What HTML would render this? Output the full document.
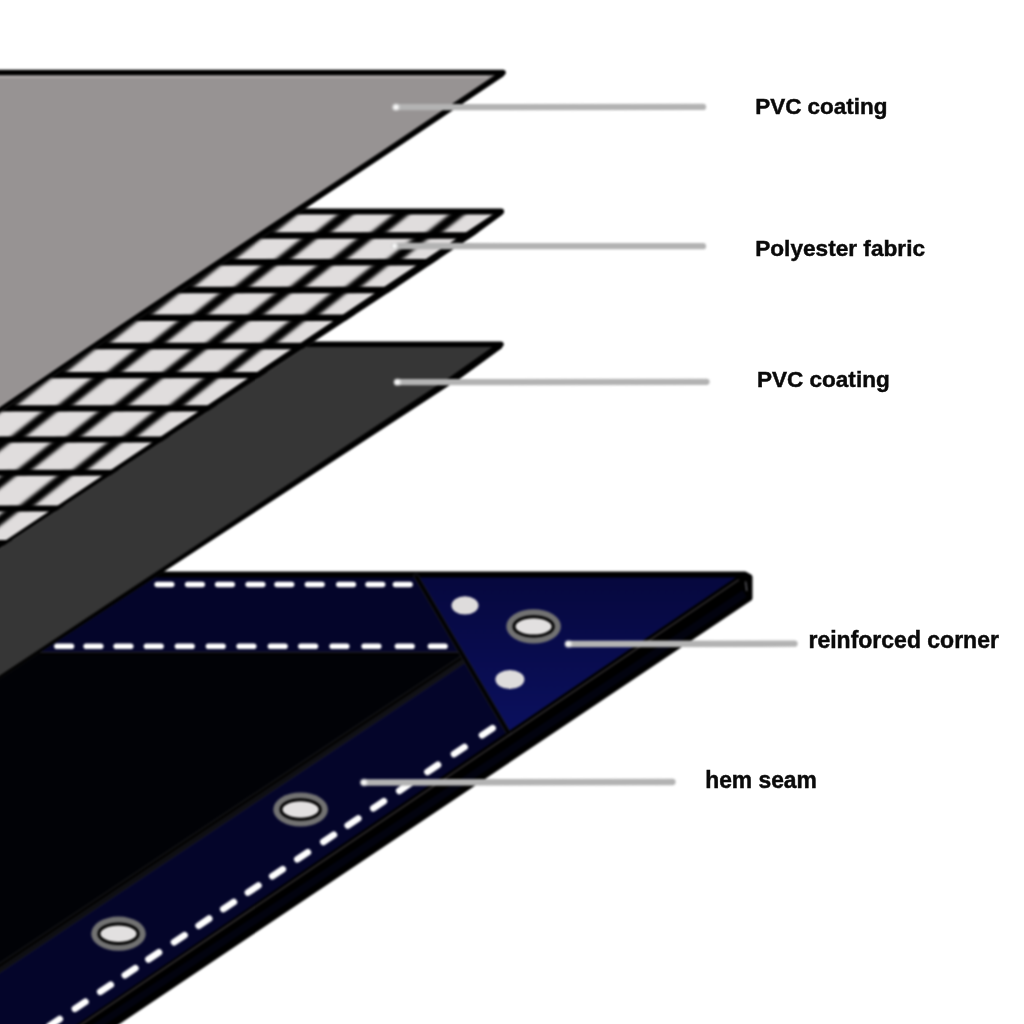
<!DOCTYPE html>
<html><head><meta charset="utf-8"><title>Tarpaulin layers</title>
<style>
html,body{margin:0;padding:0;background:#fff;}
body{width:1024px;height:1024px;overflow:hidden;}
svg{display:block;}
text{font-family:"Liberation Sans",sans-serif;font-weight:bold;font-size:22px;fill:#0a0a0a;stroke:#0a0a0a;stroke-width:0.45px;}
</style></head><body>
<svg width="1024" height="1024" viewBox="0 0 1024 1024">
<defs>
<filter color-interpolation-filters="sRGB" id="soft" x="-5%" y="-50%" width="110%" height="200%"><feGaussianBlur stdDeviation="0.7"/></filter>
<filter color-interpolation-filters="sRGB" id="soft2" x="-5%" y="-5%" width="110%" height="110%"><feGaussianBlur stdDeviation="1.4"/></filter>
<filter color-interpolation-filters="sRGB" id="soft4" x="-50%" y="-50%" width="200%" height="200%"><feGaussianBlur stdDeviation="0.9"/></filter>
<filter color-interpolation-filters="sRGB" id="tsoft" x="-2%" y="-20%" width="104%" height="140%"><feColorMatrix type="matrix" values="1 0 0 0 0  0 1 0 0 0  0 0 1 0 0  0 0 0 1 0"/></filter>
<filter color-interpolation-filters="sRGB" id="soft5" x="-5%" y="-5%" width="110%" height="110%"><feGaussianBlur stdDeviation="0.5"/></filter>
<filter color-interpolation-filters="sRGB" id="lsoft" x="-5%" y="-300%" width="110%" height="700%"><feGaussianBlur stdDeviation="1.0"/></filter>
<filter color-interpolation-filters="sRGB" id="gsoft" filterUnits="userSpaceOnUse" x="-30" y="-30" width="1084" height="1084"><feGaussianBlur stdDeviation="0.8"/></filter>
<filter color-interpolation-filters="sRGB" id="soft3" x="-5%" y="-5%" width="110%" height="110%"><feGaussianBlur stdDeviation="0.6"/></filter>
<linearGradient id="cg" gradientUnits="userSpaceOnUse" x1="0" y1="578" x2="0" y2="731"><stop offset="0" stop-color="#06083e"/><stop offset="1" stop-color="#0b105e"/></linearGradient>
</defs>
<rect width="1024" height="1024" fill="#fff"/>
<g filter="url(#gsoft)">
<g id="tarp">
<path d="M-20 574.5 L745 574.5 L749.5 577 L749.5 598 L50 1067 L-20 1060 Z" fill="#000" stroke="#000" stroke-width="6" stroke-linejoin="round" filter="url(#soft)"/>
<path d="M743 590 L746.5 597 L60 1054.8 L60 1046.33 Z" fill="#02030f"/>
<path d="M-20 577.5 L736 577.5 L40 1049.89 L-20 1040 Z" fill="#010206"/>
<path d="M-20 577.5 L418.06 577.5 L460.63 652 L-20 652 Z" fill="#04052a"/>
<path d="M-20 985.82 L466 661.14 L509 731 L-20 1090.57 Z" fill="#04052a"/>
<path d="M417.6 577.5 L736 577.5 L509 731 Z" fill="url(#cg)"/>
<g fill="none" stroke="#000" stroke-linecap="round">
<path d="M40 653.6 L461 653.6" stroke-width="2.4"/>
<path d="M40 652.2 L461 652.2" stroke="#2b2b33" stroke-width="1.1"/>
<path d="M-20 978.82 L463 657.14" stroke="#222226" stroke-width="4.4"/>
<path d="M-20 978.82 L463 657.14" stroke-width="2.8"/>
<path d="M-20 984.52 L467 660.18" stroke="#2e2e36" stroke-width="2.6"/>
<path d="M-20 984.52 L467 660.18" stroke-width="1.2"/>
<path d="M416 576 L508.5 733" stroke="#1c1c24" stroke-width="5"/>
<path d="M416 576 L508.5 733" stroke-width="3.3"/>
<path d="M737 578 L40 1050.69" stroke-width="1.6"/>
<path d="M738.5 580 L40 1052.49" stroke="#3a3638" stroke-width="1.3"/>
</g>
<path d="M745.6 581.5 L746.8 591" stroke="#8f8f98" stroke-width="0.9" fill="none"/>
<g fill="none" stroke="#fff" stroke-width="5.6" stroke-linecap="round">
<path d="M157.2 584.5 h14.5"/>
<path d="M187.7 584.5 h14.5"/>
<path d="M217.7 584.5 h14.5"/>
<path d="M248.2 584.5 h14.5"/>
<path d="M277.1 584.5 h14.5"/>
<path d="M307.5 584.5 h14.5"/>
<path d="M338.8 584.5 h14.5"/>
<path d="M368.1 584.5 h14.5"/>
<path d="M395.5 584.5 h14.5"/>
<path d="M56.9 646.3 h14.5"/>
<path d="M86.2 646.3 h14.5"/>
<path d="M116.2 646.3 h14.5"/>
<path d="M146.5 646.3 h14.5"/>
<path d="M177.5 646.3 h14.5"/>
<path d="M208.5 646.3 h14.5"/>
<path d="M239.2 646.3 h14.5"/>
<path d="M270.5 646.3 h14.5"/>
<path d="M300.9 646.3 h14.5"/>
<path d="M332.2 646.3 h14.5"/>
<path d="M364.2 646.3 h14.5"/>
<path d="M397.5 646.3 h14.5"/>
<path d="M430.5 646.3 h14.5"/>
</g>
<g fill="none" stroke="#fff" stroke-width="6.7" stroke-linecap="round">
<path d="M482.07 735.21 L492.53 728.19"/>
<path d="M454.07 754.03 L464.53 747"/>
<path d="M427.47 771.91 L437.93 764.88"/>
<path d="M399.27 790.86 L409.73 783.83"/>
<path d="M373.37 808.26 L383.83 801.23"/>
<path d="M347.77 825.46 L358.23 818.44"/>
<path d="M323.37 841.86 L333.83 834.83"/>
<path d="M297.37 859.33 L307.83 852.3"/>
<path d="M272.27 876.2 L282.73 869.17"/>
<path d="M247.97 892.53 L258.43 885.5"/>
<path d="M223.37 909.06 L233.83 902.03"/>
<path d="M198.67 925.66 L209.13 918.63"/>
<path d="M174.07 942.19 L184.53 935.16"/>
<path d="M148.47 959.39 L158.93 952.37"/>
<path d="M124.87 975.25 L135.33 968.22"/>
<path d="M100.27 991.78 L110.73 984.76"/>
<path d="M74.97 1008.79 L85.43 1001.76"/>
<path d="M49.27 1026.06 L59.73 1019.03"/>
<path d="M24.27 1042.86 L34.73 1035.83"/>
<path d="M-0.73 1059.66 L9.73 1052.63"/>
</g>
<ellipse cx="465" cy="605.4" rx="13.5" ry="9.2" fill="#dedcdc"/>
<ellipse cx="509.9" cy="679.5" rx="14.5" ry="9.4" fill="#dedcdc"/>
<ellipse cx="533.6" cy="626.4" rx="27.3" ry="17.1" fill="#727272"/>
<ellipse cx="533.6" cy="626.4" rx="19.6" ry="9.7" fill="#e2e0e0" stroke="#000" stroke-width="3"/>
<ellipse cx="300.6" cy="809.5" rx="27.3" ry="17.1" fill="#727272"/>
<ellipse cx="300.6" cy="809.5" rx="19.6" ry="9.7" fill="#e2e0e0" stroke="#000" stroke-width="3"/>
<ellipse cx="118.5" cy="933.7" rx="27.3" ry="17.1" fill="#727272"/>
<ellipse cx="118.5" cy="933.7" rx="19.6" ry="9.7" fill="#e2e0e0" stroke="#000" stroke-width="3"/>
</g>
<path d="M-20 344.2 L503.6 344.2 L501.5 348.2 L462 377 L204.55 545 L-20 691.53 Z" fill="#363636"/>
<path d="M492.7 346.7 L450 377 L196.65 545 L-20 688.66 L-20 691.53 L204.55 545 L462 377 L501.5 348.2 L503.6 344.2 Z" fill="#000" filter="url(#soft5)"/>
<path d="M-20 344.2 L500.9 344.2" stroke="#000" stroke-width="5.4" stroke-linecap="round" fill="none"/>
<clipPath id="meshclip"><path d="M-20 211.5 L504.2 211.6 L502 215 L474.6 235 L400 285 L73.2 500 L-20 561.32 Z"/></clipPath>
<path d="M-20 211.5 L504.2 211.6 L502 215 L474.6 235 L400 285 L73.2 500 L-20 561.32 Z" fill="#e0dddd"/>
<g clip-path="url(#meshclip)">
<g fill="#000" filter="url(#soft2)">
<path d="M454.85 210 L470.4 210 L436.22 237 L420.67 237 Z"/>
<path d="M399.15 210 L414.7 210 L380.52 237 L364.97 237 Z"/>
<path d="M343.45 210 L359 210 L324.82 237 L309.27 237 Z"/>
<path d="M287.75 210 L303.3 210 L269.12 237 L253.57 237 Z"/>
<path d="M232.05 210 L247.6 210 L213.42 237 L197.87 237 Z"/>
<path d="M176.35 210 L191.9 210 L157.72 237 L142.17 237 Z"/>
<path d="M120.65 210 L136.2 210 L102.02 237 L86.47 237 Z"/>
<path d="M64.95 210 L80.5 210 L46.32 237 L30.77 237 Z"/>
<path d="M9.25 210 L24.8 210 L-9.38 237 L-24.93 237 Z"/>
<path d="M-46.45 210 L-30.9 210 L-65.08 237 L-80.63 237 Z"/>
<path d="M418.66 234 L434.11 234 L396.51 263.7 L381.06 263.7 Z"/>
<path d="M362.96 234 L378.41 234 L340.81 263.7 L325.36 263.7 Z"/>
<path d="M307.26 234 L322.71 234 L285.11 263.7 L269.66 263.7 Z"/>
<path d="M251.56 234 L267.01 234 L229.41 263.7 L213.96 263.7 Z"/>
<path d="M195.86 234 L211.31 234 L173.71 263.7 L158.26 263.7 Z"/>
<path d="M140.16 234 L155.61 234 L118.01 263.7 L102.56 263.7 Z"/>
<path d="M84.46 234 L99.91 234 L62.31 263.7 L46.86 263.7 Z"/>
<path d="M28.76 234 L44.21 234 L6.61 263.7 L-8.84 263.7 Z"/>
<path d="M-26.94 234 L-11.49 234 L-49.09 263.7 L-64.54 263.7 Z"/>
<path d="M378.62 260.7 L393.96 260.7 L354.97 291.5 L339.63 291.5 Z"/>
<path d="M322.92 260.7 L338.26 260.7 L299.27 291.5 L283.93 291.5 Z"/>
<path d="M267.22 260.7 L282.56 260.7 L243.57 291.5 L228.23 291.5 Z"/>
<path d="M211.52 260.7 L226.86 260.7 L187.87 291.5 L172.53 291.5 Z"/>
<path d="M155.82 260.7 L171.16 260.7 L132.17 291.5 L116.83 291.5 Z"/>
<path d="M100.12 260.7 L115.46 260.7 L76.47 291.5 L61.13 291.5 Z"/>
<path d="M44.42 260.7 L59.76 260.7 L20.77 291.5 L5.43 291.5 Z"/>
<path d="M-11.28 260.7 L4.06 260.7 L-34.93 291.5 L-50.27 291.5 Z"/>
<path d="M337.06 288.5 L352.29 288.5 L313.3 319.3 L298.07 319.3 Z"/>
<path d="M281.36 288.5 L296.59 288.5 L257.6 319.3 L242.37 319.3 Z"/>
<path d="M225.66 288.5 L240.89 288.5 L201.9 319.3 L186.67 319.3 Z"/>
<path d="M169.96 288.5 L185.19 288.5 L146.2 319.3 L130.97 319.3 Z"/>
<path d="M114.26 288.5 L129.49 288.5 L90.5 319.3 L75.27 319.3 Z"/>
<path d="M58.56 288.5 L73.79 288.5 L34.8 319.3 L19.57 319.3 Z"/>
<path d="M2.86 288.5 L18.09 288.5 L-20.9 319.3 L-36.13 319.3 Z"/>
<path d="M295.45 316.3 L310.57 316.3 L271.07 347.5 L255.95 347.5 Z"/>
<path d="M239.75 316.3 L254.87 316.3 L215.37 347.5 L200.25 347.5 Z"/>
<path d="M184.05 316.3 L199.17 316.3 L159.67 347.5 L144.55 347.5 Z"/>
<path d="M128.35 316.3 L143.47 316.3 L103.97 347.5 L88.85 347.5 Z"/>
<path d="M72.65 316.3 L87.77 316.3 L48.27 347.5 L33.15 347.5 Z"/>
<path d="M16.95 316.3 L32.07 316.3 L-7.43 347.5 L-22.55 347.5 Z"/>
<path d="M-38.75 316.3 L-23.63 316.3 L-63.13 347.5 L-78.25 347.5 Z"/>
<path d="M253.17 344.5 L268.18 344.5 L227.42 376.7 L212.41 376.7 Z"/>
<path d="M197.47 344.5 L212.48 344.5 L171.72 376.7 L156.71 376.7 Z"/>
<path d="M141.77 344.5 L156.78 344.5 L116.02 376.7 L101.01 376.7 Z"/>
<path d="M86.07 344.5 L101.08 344.5 L60.32 376.7 L45.31 376.7 Z"/>
<path d="M30.37 344.5 L45.38 344.5 L4.62 376.7 L-10.39 376.7 Z"/>
<path d="M-25.33 344.5 L-10.32 344.5 L-51.08 376.7 L-66.09 376.7 Z"/>
<path d="M209.06 373.7 L223.94 373.7 L178.12 409.9 L163.24 409.9 Z"/>
<path d="M153.36 373.7 L168.24 373.7 L122.42 409.9 L107.54 409.9 Z"/>
<path d="M97.66 373.7 L112.54 373.7 L66.72 409.9 L51.84 409.9 Z"/>
<path d="M41.96 373.7 L56.84 373.7 L11.02 409.9 L-3.86 409.9 Z"/>
<path d="M-13.74 373.7 L1.14 373.7 L-44.68 409.9 L-59.56 409.9 Z"/>
<path d="M159.67 406.9 L174.42 406.9 L131.25 441 L116.5 441 Z"/>
<path d="M103.97 406.9 L118.72 406.9 L75.55 441 L60.8 441 Z"/>
<path d="M48.27 406.9 L63.02 406.9 L19.85 441 L5.1 441 Z"/>
<path d="M-7.43 406.9 L7.32 406.9 L-35.85 441 L-50.6 441 Z"/>
<path d="M112.93 438 L127.55 438 L81.73 474.2 L67.11 474.2 Z"/>
<path d="M57.23 438 L71.85 438 L26.03 474.2 L11.41 474.2 Z"/>
<path d="M1.53 438 L16.15 438 L-29.67 474.2 L-44.29 474.2 Z"/>
<path d="M63 471.2 L77.48 471.2 L28.37 510 L13.89 510 Z"/>
<path d="M7.3 471.2 L21.78 471.2 L-27.33 510 L-41.81 510 Z"/>
<path d="M9.63 507 L23.97 507 L-23.5 544.5 L-37.84 544.5 Z"/>
</g>
<g stroke="#000" fill="none" filter="url(#soft3)">
<path d="M-20 235.5 H520" stroke-width="6.7"/>
<path d="M-20 262.2 H520" stroke-width="6.61"/>
<path d="M-20 290 H520" stroke-width="6.52"/>
<path d="M-20 317.8 H520" stroke-width="6.43"/>
<path d="M-20 346 H520" stroke-width="6.34"/>
<path d="M-20 375.2 H520" stroke-width="6.25"/>
<path d="M-20 408.4 H520" stroke-width="6.16"/>
<path d="M-20 439.5 H520" stroke-width="6.07"/>
<path d="M-20 472.7 H520" stroke-width="5.98"/>
<path d="M-20 508.5 H520" stroke-width="5.89"/>
<path d="M-20 543 H520" stroke-width="5.8"/>
</g>
</g>
<path d="M492.6 214.4 L387 285 L66 500 L-20 557.6 L-20 561.32 L73.2 500 L400 285 L474.6 235 L502 215 L504.2 211.6 Z" fill="#000" filter="url(#soft5)"/>
<path d="M-20 211.5 L501.2 211.5" stroke="#000" stroke-width="5.8" stroke-linecap="round" fill="none"/>
<path d="M-20 72.5 L505.7 72.6 L503.5 76.2 L393.5 150 L258 240 L129 325 L84.5 355 L-20 425.45 Z" fill="#979393"/>
<path d="M494.7 75.2 L383.5 150 L247.5 240 L120.5 325 L76.4 355 L-20 420.58 L-20 425.45 L84.5 355 L129 325 L258 240 L393.5 150 L503.5 76.2 L505.7 72.6 Z" fill="#000" filter="url(#soft5)"/>
<path d="M-20 72.5 L502.9 72.5" stroke="#000" stroke-width="5.6" stroke-linecap="round" fill="none"/>
<path d="M-20 76.7 L488 76.7" stroke="#bab6b6" stroke-width="1.5" fill="none"/>
<g>
<path d="M395.5 107.2 L703 106.9" stroke="#b3b3b3" stroke-width="6.3" stroke-linecap="round" fill="none"/>
<path d="M394 246 L703 246.2" stroke="#b3b3b3" stroke-width="6.3" stroke-linecap="round" fill="none"/>
<path d="M397 382.2 L706.5 381.8" stroke="#b3b3b3" stroke-width="6.3" stroke-linecap="round" fill="none"/>
<path d="M568 644 L794.5 643.7" stroke="#b3b3b3" stroke-width="6.3" stroke-linecap="round" fill="none"/>
<path d="M363.5 782.5 L672.5 782" stroke="#b3b3b3" stroke-width="6.3" stroke-linecap="round" fill="none"/>
</g>
<g filter="url(#soft4)">
<circle cx="396" cy="107.2" r="2.9" fill="#fff"/>
<circle cx="394.5" cy="246" r="2.9" fill="#fff"/>
<circle cx="397.5" cy="382.2" r="2.9" fill="#fff"/>
<circle cx="568.5" cy="644" r="2.9" fill="#fff"/>
<circle cx="364" cy="782.5" r="2.9" fill="#fff"/>
</g>
</g>
<g filter="url(#tsoft)">
<text transform="translate(755.2 113.8) scale(1 1.02)" x="0" y="0" textLength="132.3" lengthAdjust="spacingAndGlyphs">PVC coating</text>
<text transform="translate(755.2 255.8) scale(1 1.02)" x="0" y="0" textLength="169.8" lengthAdjust="spacingAndGlyphs">Polyester fabric</text>
<text transform="translate(756.9 386.7) scale(1 1.02)" x="0" y="0" textLength="132.8" lengthAdjust="spacingAndGlyphs">PVC coating</text>
<text transform="translate(808.5 648) scale(1 1.06)" x="0" y="0" textLength="190.4" lengthAdjust="spacingAndGlyphs">reinforced corner</text>
<text transform="translate(705.2 787.6) scale(1 1.07)" x="0" y="0" textLength="111.6" lengthAdjust="spacingAndGlyphs">hem seam</text>
</g>
</svg>
</body></html>
